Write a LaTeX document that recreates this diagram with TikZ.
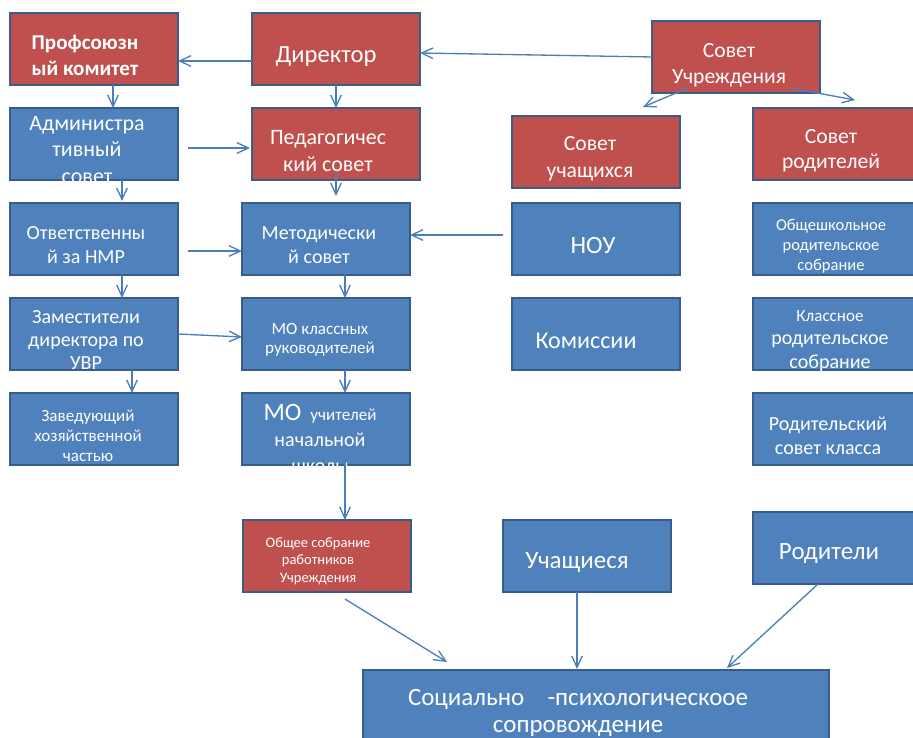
\documentclass[tikz,border=0pt]{standalone}
\usepackage{fontspec}
\setmainfont{Carlito}
\usetikzlibrary{positioning,arrows.meta}
\definecolor{boxred}{HTML}{C0504D}
\definecolor{boxblue}{HTML}{4F81BD}
\definecolor{boxline}{HTML}{385D8A}
\definecolor{arrline}{HTML}{4A7EBB}
\tikzset{
orgbox/.style={rectangle,draw=boxline,line width=1.4pt,minimum width=3.36cm,minimum height=1.44cm,outer sep=0pt,inner sep=0pt},
redbox/.style={orgbox,fill=boxred},
bluebox/.style={orgbox,fill=boxblue},
txt/.style={text=white,align=center,inner sep=0pt},
arr/.style={draw=arrline,line width=0.75pt,-{Straight Barb[length=6.5pt,width=6pt]}}
}
\begin{document}
\begin{tikzpicture}
\useasboundingbox (0,0) rectangle (18.26,-14.76);
\clip (0,0) rectangle (18.26,-14.76);
\node[redbox](prof) at (1.88,-0.98) {};
\node[redbox,right=1.48cm of prof](dir) {};
\node[redbox](souch) at (14.72,-1.14) {};
\node[bluebox,below=0.46cm of prof](adm) {};
\node[redbox,below=0.46cm of dir](ped) {};
\node[redbox](suc) at (11.92,-3.04) {};
\node[redbox](srod) at (16.74,-2.88) {};
\node[bluebox,below=0.46cm of adm](otv) {};
\node[bluebox,right=1.28cm of otv](met) {};
\node[bluebox,right=2.04cm of met](nou) {};
\node[bluebox,right=1.46cm of nou](obsh) {};
\node[bluebox,below=0.46cm of otv](zam) {};
\node[bluebox,below=0.46cm of met](mok) {};
\node[bluebox,below=0.46cm of nou](kom) {};
\node[bluebox,below=0.46cm of obsh](kla) {};
\node[bluebox,below=0.46cm of zam](zav) {};
\node[bluebox,below=0.46cm of mok](mou) {};
\node[bluebox,below=0.46cm of kla](rsk) {};
\node[redbox](osob) at (6.54,-11.12) {};
\node[bluebox,right=1.84cm of osob](uch) {};
\node[bluebox](rodi) at (16.74,-10.96) {};
\node[bluebox,minimum width=9.32cm](soc) at (11.92,-14.12) {};

\node[txt,align=left,font=\bfseries\fontsize{12}{14.8}\selectfont](tprof) at (1.70,-1.10) {Профсоюзн\\ый комитет};
\node[txt,font=\fontsize{14}{16}\selectfont](tdir) at (6.52,-1.14) {Директор};
\node[txt,font=\fontsize{12.3}{14.8}\selectfont](tsouch) at (14.58,-1.30) {Совет\\Учреждения};
\node[txt,font=\fontsize{12.5}{15.2}\selectfont](tadm) at (1.74,-3.00) {Администра\\тивный\\совет};
\node[txt,font=\fontsize{12.5}{15.4}\selectfont](tped) at (6.56,-3.02) {Педагогичес\\кий совет};
\node[txt,font=\fontsize{12.3}{15.4}\selectfont](tsuc) at (11.80,-3.18) {Совет\\учащихся};
\node[txt,font=\fontsize{12.3}{14.5}\selectfont](tsrod) at (16.62,-3.02) {Совет\\родителей};
\node[txt,font=\fontsize{11.4}{13.7}\selectfont](totv) at (1.72,-4.90) {Ответственны\\й за НМР};
\node[txt,font=\fontsize{11.4}{13.7}\selectfont](tmet) at (6.38,-4.90) {Методически\\й совет};
\node[txt,font=\fontsize{14.2}{16}\selectfont](tnou) at (11.86,-4.90) {НОУ};
\node[txt,font=\fontsize{9.4}{11.4}\selectfont](tobsh) at (16.62,-4.92) {Общешкольное\\родительское\\собрание};
\node[txt,font=\fontsize{11.4}{13.1}\selectfont](tzam) at (1.72,-6.80) {Заместители\\директора по\\УВР};
\node[txt,font=\fontsize{9.7}{11}\selectfont](tmok) at (6.40,-6.80) {МО классных\\руководителей};
\node[txt,font=\fontsize{13.7}{16}\selectfont](tkom) at (11.72,-6.82) {Комиссии};
\node[txt,font=\fontsize{11.4}{13.3}\selectfont](tkla) at (16.60,-6.82) {{\fontsize{9.7}{11}\selectfont Классное}\\родительское\\собрание};
\node[txt,font=\fontsize{9.7}{11.4}\selectfont](tzav) at (1.76,-8.72) {Заведующий\\хозяйственной\\частью};
\node[txt,font=\fontsize{11.4}{14.8}\selectfont](tmou) at (6.40,-8.76) {{\fontsize{14.2}{15}\selectfont МО}\ \ {\fontsize{9.7}{11}\selectfont учителей}\\начальной\\школы};
\node[txt,font=\fontsize{11.4}{13.7}\selectfont](trsk) at (16.56,-8.72) {Родительский\\совет класса};
\node[txt,font=\fontsize{8.25}{10}\selectfont](tosob) at (6.36,-11.22) {Общее собрание\\работников\\Учреждения};
\node[txt,font=\fontsize{14.2}{16}\selectfont](tuch) at (11.54,-11.26) {Учащиеся};
\node[txt,font=\fontsize{14.2}{16}\selectfont](trodi) at (16.58,-11.08) {Родители};
\node[txt,font=\fontsize{14.2}{15.4}\selectfont](tsoc) at (11.56,-14.26) {Социально\hspace{10pt} -психологическоое\\сопровождение};

\draw[arr] ([yshift=-0.24cm]dir.west) -- ([yshift=-0.24cm]prof.east);
\draw[arr] (souch.west) -- ([yshift=-0.08cm]dir.east);
\draw[arr] ([xshift=-0.96cm,yshift=0.1cm]souch.south) -- ([xshift=0.94cm,yshift=0.18cm]suc.north);
\draw[arr] ([xshift=1.08cm,yshift=0.1cm]souch.south) -- ([xshift=0.36cm,yshift=0.16cm]srod.north);
\draw[arr] ([xshift=0.38cm]prof.south) -- ([xshift=0.38cm]adm.north);
\draw[arr] (dir) -- (ped);
\draw[arr] ([xshift=0.2cm,yshift=-0.08cm]adm.east) -- ([xshift=-0.04cm,yshift=-0.08cm]ped.west);
\draw[arr] ([xshift=0.56cm]adm.south) -- ([xshift=0.56cm,yshift=0.04cm]otv.north);
\draw[arr] ([yshift=0.16cm]ped.south) -- ([yshift=0.14cm]ped.south |- met.north);
\draw[arr] ([xshift=0.2cm,yshift=-0.24cm]otv.east) -- ([yshift=-0.24cm]met.west);
\draw[arr] ([xshift=-0.18cm,yshift=0.08cm]nou.west) -- ([yshift=0.08cm]met.east);
\draw[arr] ([xshift=0.56cm]otv.south) -- ([xshift=0.56cm]zam.north);
\draw[arr] ([xshift=0.38cm]met.south) -- ([xshift=0.38cm]mok.north);
\draw[arr] (zam.east) -- ([yshift=-0.06cm]mok.west);
\draw[arr] ([xshift=0.76cm]zam.south) -- ([xshift=0.76cm]zav.north);
\draw[arr] ([xshift=0.38cm]mok.south) -- ([xshift=0.38cm]mou.north);
\draw[arr] ([xshift=0.38cm,yshift=0.2cm]mou.south) -- ([xshift=0.38cm]mou.south |- osob.north);
\draw[arr] ([xshift=0.36cm,yshift=-0.14cm]osob.south) -- ([xshift=-2.98cm,yshift=0.16cm]soc.north);
\draw[arr] ([xshift=-0.2cm]uch.south) -- ([xshift=-0.2cm,yshift=0.02cm]uch.south |- soc.north);
\draw[arr] ([xshift=-0.38cm]rodi.south) -- ([xshift=2.62cm,yshift=0.04cm]soc.north);
\end{tikzpicture}
\end{document}
